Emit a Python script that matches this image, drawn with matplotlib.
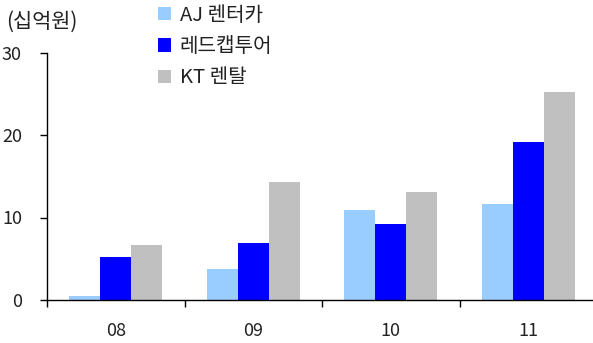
import matplotlib
matplotlib.use("Agg")
import matplotlib.pyplot as plt
import numpy as np

plt.rcParams['font.family'] = ['Noto Sans CJK KR', 'DejaVu Sans']

years = ["08", "09", "10", "11"]
series_names = ["AJ 렌터카", "레드캡투어", "KT 렌탈"]
aj_rentacar = [0.5, 3.8, 10.9, 11.6]
redcap_tour = [5.2, 6.9, 9.2, 19.1]
kt_rental = [6.7, 14.3, 13.1, 25.2]
colors = ["#99CCFF", "#0000FF", "#C0C0C0"]
y_ticks = [0, 10, 20, 30]

fig = plt.figure(figsize=(5.93, 3.43), dpi=100)
ax = fig.add_axes([47 / 593, 1 - 300 / 343, 546 / 593, 247.5 / 343])

x = np.arange(len(years))
w = 0.225
handles = []
for i, (vals, name, c) in enumerate(zip([aj_rentacar, redcap_tour, kt_rental], series_names, colors)):
    h = ax.bar(x + (i - 1) * w, vals, width=w, color=c, label=name)
    handles.append(h)

ax.set_ylim(0, 30)
ax.set_xlim(-0.5, -0.5 + 546 / 137.5)
ax.set_yticks(y_ticks)
ax.set_yticklabels([str(t) for t in y_ticks], fontsize=13, color="#222222")

ax.set_xticks(x - 0.5)
ax.set_xticklabels([])
ax.set_xticks(x, minor=True)
ax.set_xticklabels(years, minor=True, fontsize=13, color="#222222")
ax.tick_params(axis='x', which='major', direction='out', length=5, width=1)
ax.tick_params(axis='x', which='minor', length=0, pad=16)
ax.tick_params(axis='y', direction='out', length=5, width=1, pad=13)

for s in ["top", "right"]:
    ax.spines[s].set_visible(False)
ax.spines["left"].set_linewidth(1)
ax.spines["bottom"].set_linewidth(1)

fig.text(6 / 593, 1 - 22 / 343, "(십억원)", fontsize=15, va="center", ha="left",
         color="#222222", fontweight="light")

leg = fig.legend(handles=handles, labels=series_names, loc="upper left",
                 bbox_to_anchor=(156 / 593, 1 - 3 / 343), frameon=False, fontsize=14.5,
                 handlelength=0.62, handleheight=0.62, handletextpad=0.45,
                 labelspacing=0.5, borderaxespad=0.0, borderpad=0.1)
for t in leg.get_texts():
    t.set_color("#222222")
    t.set_fontweight("light")

fig.savefig("out.png", dpi=100)
